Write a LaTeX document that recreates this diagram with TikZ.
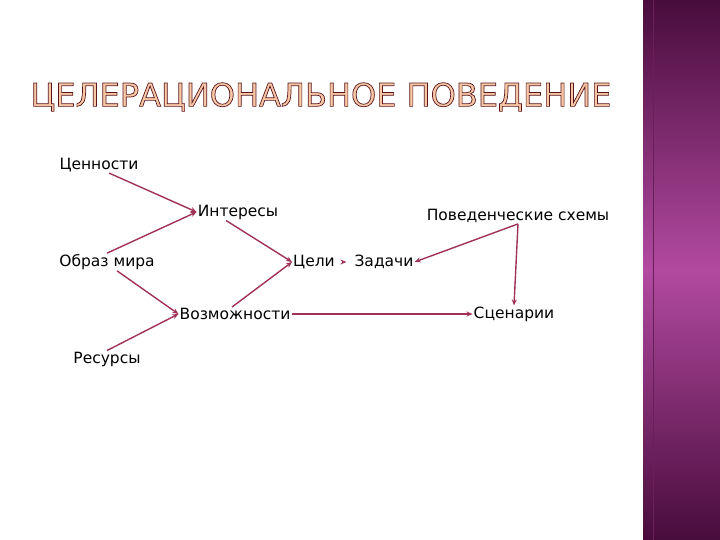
\documentclass[tikz,border=0pt]{standalone}
\usepackage{fontspec}
\setmainfont{DejaVu Sans}
\usetikzlibrary{arrows.meta}

\definecolor{linkred}{RGB}{160,50,90}
\definecolor{titlefill}{RGB}{248,200,165}
\definecolor{bandtop}{RGB}{72,12,60}
\definecolor{bandmid}{RGB}{178,74,160}

% outlined letters for the heading
\newcommand\outlinetext[1]{\color{titlefill}\special{pdf:literal direct 2 Tr 0.7 w 0.35 0.08 0.12 RG}#1\special{pdf:literal direct 0 Tr}}

\begin{document}
\begin{tikzpicture}[x=1pt,y=-1pt,
    every node/.style={font=\fontsize{15.5}{18}\selectfont, inner sep=1pt},
    link/.style={draw=linkred, line width=1.4pt, -{Stealth[length=6pt,width=5pt]}}]

    \useasboundingbox (0,0) rectangle (720,540);
    \fill[white] (0,0) rectangle (720,540);
    \shade[top color=bandtop, bottom color=bandtop, middle color=bandmid] (643,0) rectangle (720,540);
    \draw[bandtop!70!bandmid, line width=1pt] (653,0) -- (653,540);

    \node[font=\fontsize{32}{36}\selectfont] (title) at (321,97) {\outlinetext{ЦЕЛЕРАЦИОНАЛЬНОЕ ПОВЕДЕНИЕ}};

    \node (values) at (99,165) {Ценности};
    \node (interests) at (238,212) {Интересы};
    \node (worldview) at (107,262) {Образ мира};
    \node (goals) at (314,262) {Цели};
    \node (tasks) at (384,262) {Задачи};
    \node (patterns) at (518,216) {Поведенческие схемы};
    \node (options) at (235,314) {Возможности};
    \node (scenarios) at (514,314) {Сценарии};
    \node (resources) at (107,359) {Ресурсы};

    \draw[link] ([xshift=10pt]values.south) -- (interests.west);
    \draw[link] (worldview.north) -- (interests.west);
    \draw[link] ([xshift=-12pt]interests.south) -- (goals.west);
    \draw[link] ([xshift=10pt]worldview.south) -- (options.west);
    \draw[link] (resources.north) -- (options.west);
    \draw[link] ([xshift=-3pt]options.north) -- (goals.west);
    \draw[link, shorten <=7pt, shorten >=7pt] (goals.east) -- (tasks.west);
    \draw[link] (patterns.south) -- (tasks.east);
    \draw[link] (patterns.south) -- (scenarios.north);
    \draw[link] (options.east) -- (scenarios.west);
\end{tikzpicture}
\end{document}
